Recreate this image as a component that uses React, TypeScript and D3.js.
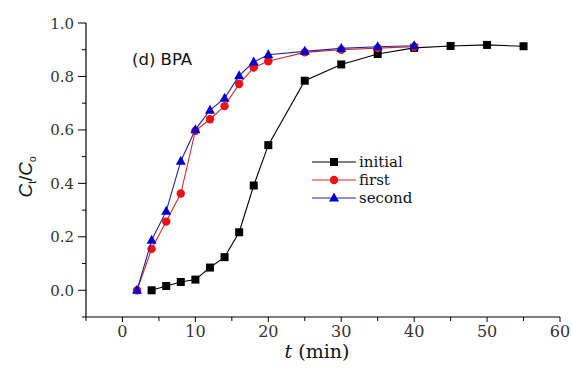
import React from "react";
import * as d3 from "d3";

const W = 572;
const H = 370;

// data
const tInitial = [4, 6, 8, 10, 12, 14, 16, 18, 20, 25, 30, 35, 40, 45, 50, 55];
const cInitial = [0.0, 0.016, 0.031, 0.04, 0.085, 0.124, 0.217, 0.392, 0.543, 0.784, 0.845, 0.884, 0.907, 0.914, 0.918, 0.913];

const tFirst = [2, 4, 6, 8, 10, 12, 14, 16, 18, 20, 25, 30, 35, 40];
const cFirst = [0.0, 0.155, 0.257, 0.362, 0.597, 0.64, 0.689, 0.772, 0.833, 0.857, 0.89, 0.9, 0.906, 0.911];

const tSecond = [2, 4, 6, 8, 10, 12, 14, 16, 18, 20, 25, 30, 35, 40];
const cSecond = [0.0, 0.187, 0.296, 0.483, 0.601, 0.674, 0.718, 0.803, 0.854, 0.881, 0.894, 0.905, 0.911, 0.915];

const xMajor = [0, 10, 20, 30, 40, 50, 60];
const xMinor = [-5, 5, 15, 25, 35, 45, 55];
const yMajor = [0, 0.2, 0.4, 0.6, 0.8, 1.0];
const yMinor = [-0.1, 0.1, 0.3, 0.5, 0.7, 0.9];

const legendNames = ["initial", "first", "second"];

const x = d3.scaleLinear().domain([-5, 60]).range([86, 560]);
const y = d3.scaleLinear().domain([-0.1, 1.0]).range([317, 23]);

const line = d3
  .line<[number, number]>()
  .x((d) => x(d[0]))
  .y((d) => y(d[1]));

const zip = (a: number[], b: number[]) => a.map((v, i) => [v, b[i]] as [number, number]);

const Square = ({ cx, cy }: { cx: number; cy: number }) => (
  <rect x={cx - 4} y={cy - 4} width={8} height={8} fill="#000" />
);
const Dot = ({ cx, cy }: { cx: number; cy: number }) => (
  <circle cx={cx} cy={cy} r={4.2} fill="#ee1111" />
);
const Tri = ({ cx, cy }: { cx: number; cy: number }) => (
  <path d={`M${cx},${cy - 5.5} L${cx + 5},${cy + 3.5} L${cx - 5},${cy + 3.5} Z`} fill="#0000cc" />
);

const series = [
  { name: "initial", pts: zip(tInitial, cInitial), stroke: "#000", M: Square },
  { name: "first", pts: zip(tFirst, cFirst), stroke: "#d42a2a", M: Dot },
  { name: "second", pts: zip(tSecond, cSecond), stroke: "#22229a", M: Tri },
];

const serif = "'DejaVu Serif', serif";

export default function App() {
  return (
    <div style={{ position: "fixed", left: 0, top: 0 }}>
      <svg width={W} height={H} style={{ display: "block", background: "#fff" }}>
        {/* axes */}
        <line x1={x(-5)} x2={x(60)} y1={y(-0.1)} y2={y(-0.1)} stroke="#000" strokeWidth={1.2} />
        <line x1={x(-5)} x2={x(-5)} y1={y(-0.1)} y2={y(1.0)} stroke="#000" strokeWidth={1.2} />
        {xMajor.map((v) => (
          <g key={"xm" + v}>
            <line x1={x(v)} x2={x(v)} y1={y(-0.1)} y2={y(-0.1) + 5} stroke="#000" />
            <text x={x(v)} y={337} textAnchor="middle" fontFamily={serif} fontSize={16} fill="#333">
              {v}
            </text>
          </g>
        ))}
        {xMinor.map((v) => (
          <line key={"xn" + v} x1={x(v)} x2={x(v)} y1={y(-0.1)} y2={y(-0.1) + 4} stroke="#000" />
        ))}
        {yMajor.map((v) => (
          <g key={"ym" + v}>
            <line x1={x(-5) - 8} x2={x(-5)} y1={y(v)} y2={y(v)} stroke="#000" />
            <text x={74} y={y(v) + 5.5} textAnchor="end" fontFamily={serif} fontSize={15} fill="#333">
              {d3.format(".1f")(v)}
            </text>
          </g>
        ))}
        {yMinor.map((v) => (
          <line key={"yn" + v} x1={x(-5) - 4} x2={x(-5)} y1={y(v)} y2={y(v)} stroke="#000" />
        ))}

        {/* axis titles */}
        <text x={317} y={358} textAnchor="middle" fontFamily={serif} fontSize={19} fill="#111">
          <tspan fontStyle="italic">t</tspan> (min)
        </text>
        <text
          transform="translate(32,177) rotate(-90)"
          textAnchor="middle"
          fontFamily="'Liberation Sans', sans-serif"
          fontSize={19}
          fill="#111"
        >
          <tspan fontStyle="italic">C</tspan>
          <tspan fontSize={10} dy={4}>t</tspan>
          <tspan dy={-4}>/</tspan>
          <tspan fontStyle="italic">C</tspan>
          <tspan fontSize={10} dy={4}>o</tspan>
        </text>

        <text x={132} y={65} fontFamily="'DejaVu Sans', sans-serif" fontSize={16.5} fill="#111">
          (d) BPA
        </text>

        {/* series */}
        {series.map((s) => (
          <g key={s.name}>
            <path d={line(s.pts) || ""} fill="none" stroke={s.stroke} strokeWidth={1.1} />
            {s.pts.map((p, i) => (
              <s.M key={i} cx={x(p[0])} cy={y(p[1])} />
            ))}
          </g>
        ))}

        {/* legend */}
        {series.map((s, i) => {
          const ly = 162 + i * 18;
          return (
            <g key={"lg" + s.name}>
              <line x1={312} x2={356} y1={ly} y2={ly} stroke={s.stroke} strokeWidth={1.1} />
              <s.M cx={334} cy={ly} />
              <text x={359} y={ly + 5} fontFamily={serif} fontSize={15} fill="#111">
                {legendNames[i]}
              </text>
            </g>
          );
        })}
      </svg>
    </div>
  );
}
